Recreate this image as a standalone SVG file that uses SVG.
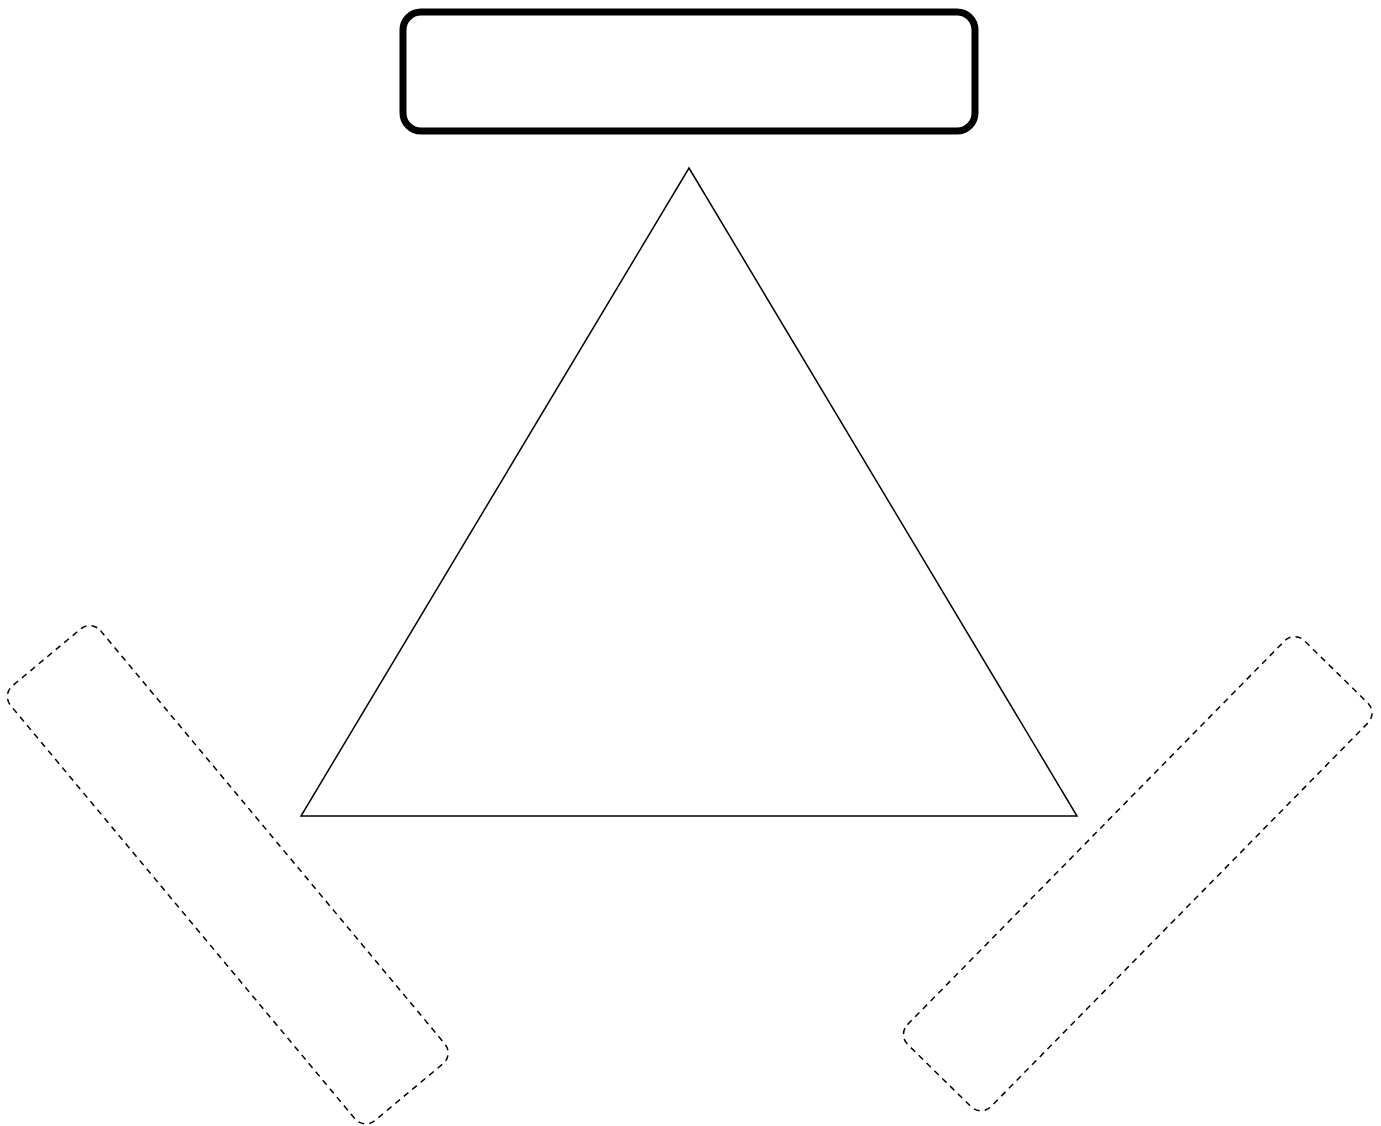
<svg xmlns="http://www.w3.org/2000/svg" width="1381" height="1126" viewBox="0 0 1381 1126">
<style>
.dash{fill:none;stroke:#000;stroke-width:1.5;stroke-dasharray:6 5}
.thick{fill:#fff;stroke:#000;stroke-width:7}
.thin{fill:none;stroke:#000;stroke-width:1.5;stroke-linejoin:miter}
</style>
<rect width="1381" height="1126" fill="#fff"/>
<g id="top-box"><rect class="thick" x="403" y="12" width="572" height="119" rx="18" ry="18"/></g>
<g id="triangle"><polygon class="thin" points="689,168 1077,816 301,816"/></g>
<g id="left-box" transform="translate(227.75 874.75) rotate(50.2)"><rect class="dash" x="-283" y="-58.5" width="566" height="117" rx="14" ry="14"/></g>
<g id="right-box" transform="translate(1137.75 873.75) rotate(-45.5)"><rect class="dash" x="-283" y="-58.5" width="566" height="117" rx="14" ry="14"/></g>
<g id="connectors"></g>
</svg>
